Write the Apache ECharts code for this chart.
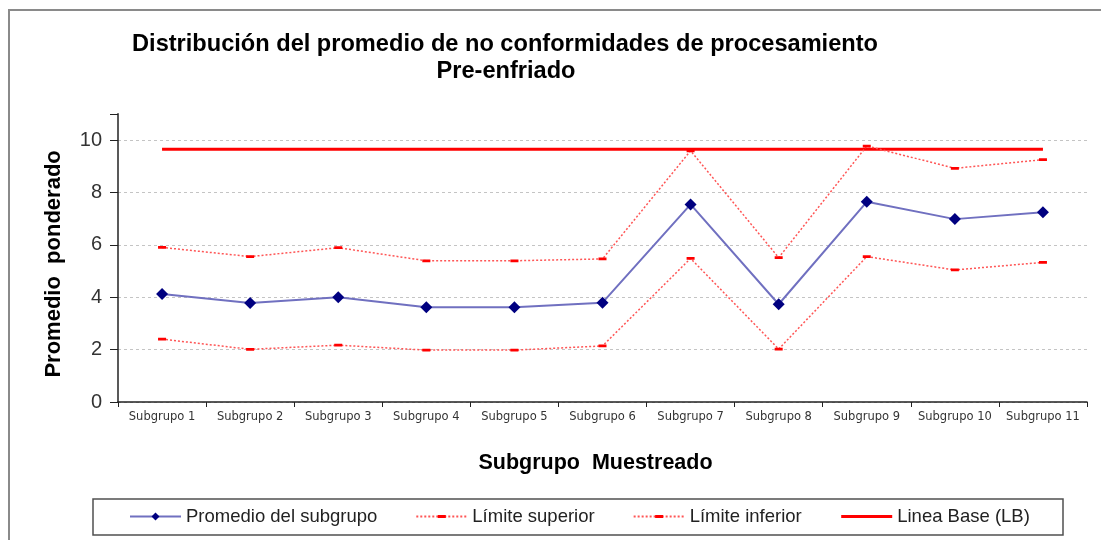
<!DOCTYPE html>
<html>
<head>
<meta charset="utf-8">
<script src="https://cdn.jsdelivr.net/npm/echarts@6/dist/echarts.min.js"></script>
<style>
html,body{margin:0;padding:0;background:#fff;}
#chart{width:1101px;height:540px;}
</style>
</head>
<body>
<div id="chart"></div>
<script>
var categories = ['Subgrupo 1','Subgrupo 2','Subgrupo 3','Subgrupo 4','Subgrupo 5','Subgrupo 6','Subgrupo 7','Subgrupo 8','Subgrupo 9','Subgrupo 10','Subgrupo 11'];
var promedio = [4.12, 3.78, 4.00, 3.62, 3.62, 3.79, 7.54, 3.73, 7.64, 6.98, 7.24];
var limiteSuperior = [5.90, 5.55, 5.89, 5.39, 5.39, 5.46, 9.59, 5.51, 9.77, 8.92, 9.25];
var limiteInferior = [2.40, 2.01, 2.17, 1.98, 1.98, 2.14, 5.48, 2.02, 5.55, 5.04, 5.33];
var lineaBase = [9.65, 9.65, 9.65, 9.65, 9.65, 9.65, 9.65, 9.65, 9.65, 9.65, 9.65];
var seriesNames = ['Promedio del subgrupo', 'Límite superior', 'Límite inferior', 'Linea Base (LB)'];
var titleLines = ['Distribución del promedio de no conformidades de procesamiento', 'Pre-enfriado'];
var yTicks = {min: 0, max: 11, interval: 2};

var chart = echarts.init(document.getElementById('chart'));
var gridColor = '#c4c4c4';
// square bounding box (tiny corner specks) with a flat bar in the middle
var dashSymbol = 'path://M0,0L0.01,0L0,0.01Z M8,8L7.99,8L8,7.99Z M0,2.6L8,2.6L8,5.4L0,5.4Z';
var option = {
  animation: false,
  backgroundColor: '#fff',
  graphic: [
    {type: 'rect', silent: true, z: -1, shape: {x: 9, y: 10, width: 1200, height: 600},
     style: {fill: 'none', stroke: '#8a8a8a', lineWidth: 2}},
    {type: 'rect', silent: true, shape: {x: 93, y: 499, width: 970, height: 36},
     style: {fill: 'none', stroke: '#505050', lineWidth: 1.5}},
    {type: 'text', silent: true, x: 505, y: 44,
     style: {text: titleLines[0], textAlign: 'center', textVerticalAlign: 'middle',
             fontFamily: 'Liberation Sans', fontWeight: 'bold', fontSize: 23.6, fill: '#000'}},
    {type: 'text', silent: true, x: 506, y: 71,
     style: {text: titleLines[1], textAlign: 'center', textVerticalAlign: 'middle',
             fontFamily: 'Liberation Sans', fontWeight: 'bold', fontSize: 23.6, fill: '#000'}}
  ],
  legend: {
    left: 129,
    top: 507,
    padding: 0,
    itemGap: 38,
    itemWidth: 51,
    itemHeight: 10,
    data: [
      {name: seriesNames[0]},
      {name: seriesNames[1]},
      {name: seriesNames[2]},
      {name: seriesNames[3], itemStyle: {opacity: 0}, lineStyle: {width: 3}}
    ],
    textStyle: {fontFamily: 'Liberation Sans', fontSize: 18.5, color: '#222'}
  },
  grid: {left: 118, right: 14, top: 113.8, bottom: 138, containLabel: false},
  xAxis: {
    type: 'category',
    data: categories,
    boundaryGap: true,
    name: 'Subgrupo  Muestreado',
    nameLocation: 'middle',
    nameGap: 50,
    nameTextStyle: {fontFamily: 'Liberation Sans', fontWeight: 'bold', fontSize: 21.5, color: '#000', padding: [0, 14, 0, 0]},
    axisLine: {lineStyle: {color: '#222', width: 1.5}},
    axisTick: {show: true, length: 5, alignWithLabel: false, lineStyle: {color: '#222'}},
    axisLabel: {fontFamily: 'DejaVu Sans', fontSize: 11.5, color: '#333', margin: 9, interval: 0},
    splitLine: {show: false}
  },
  yAxis: {
    type: 'value',
    min: yTicks.min,
    max: yTicks.max,
    interval: yTicks.interval,
    name: 'Promedio  ponderado',
    nameLocation: 'middle',
    nameGap: 53,
    nameTextStyle: {fontFamily: 'Liberation Sans', fontWeight: 'bold', fontSize: 22, color: '#000', padding: [0, 12, 0, 0]},
    axisLine: {show: true, lineStyle: {color: '#222', width: 1.5}},
    axisTick: {show: true, length: 8, lineStyle: {color: '#222'}},
    axisLabel: {fontFamily: 'Liberation Sans', fontSize: 20, color: '#333', margin: 16,
      formatter: function (v) { return v > 10 ? '' : String(v); }},
    splitLine: {show: true, lineStyle: {color: [gridColor, gridColor, gridColor, gridColor, gridColor, gridColor, 'transparent'], type: [3, 3], width: 1}}
  },
  series: [
    {
      name: seriesNames[0], type: 'line', data: promedio,
      symbol: 'diamond', symbolSize: 12, z: 4,
      itemStyle: {color: '#000080'},
      lineStyle: {color: '#7070c0', width: 2}
    },
    {
      name: seriesNames[1], type: 'line', data: limiteSuperior,
      symbol: dashSymbol, symbolSize: 8, z: 3,
      itemStyle: {color: '#ff0000'},
      lineStyle: {color: '#ff5555', width: 1.5, type: [2, 2]}
    },
    {
      name: seriesNames[2], type: 'line', data: limiteInferior,
      symbol: dashSymbol, symbolSize: 8, z: 3,
      itemStyle: {color: '#ff0000'},
      lineStyle: {color: '#ff5555', width: 1.5, type: [2, 2]}
    },
    {
      name: seriesNames[3], type: 'line', data: lineaBase,
      symbol: 'none', showSymbol: false, z: 2,
      itemStyle: {color: '#ff0000'},
      lineStyle: {color: '#ff0000', width: 3}
    }
  ]
};
chart.setOption(option);
</script>
</body>
</html>
